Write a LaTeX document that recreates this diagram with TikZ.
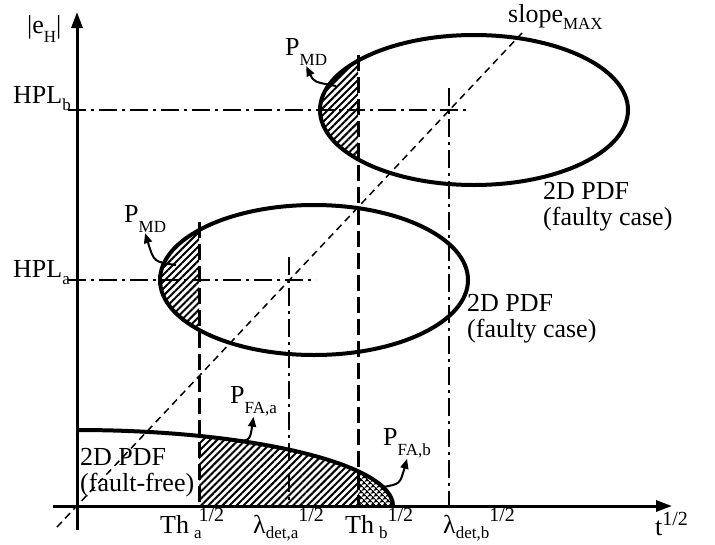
\documentclass[tikz,border=0pt]{standalone}
\usepackage{fontspec}
\setmainfont{Liberation Serif}
\usetikzlibrary{arrows.meta,patterns.meta}

\newcommand{\sublbl}[2][0.42em]{\raisebox{-#1}{\fontsize{17}{17}\selectfont #2}}
\newcommand{\suplbl}[1]{\raisebox{0.45em}{\fontsize{20}{20}\selectfont #1}}

\begin{document}
\begin{tikzpicture}[x=1pt,y=-1pt,
        every node/.style={inner sep=0pt,font=\fontsize{26}{26}\selectfont},
        axis/.style={-{Triangle[length=16pt,width=11pt]},line width=3pt},
        pdf/.style={line width=4pt},
        thr/.style={line width=3pt,dash pattern=on 16pt off 6pt},
        det/.style={line width=2.6pt,dash pattern=on 18pt off 5pt on 3pt off 5pt},
        slopeline/.style={line width=1.5pt,dash pattern=on 7pt off 5pt},
        hatch/.style={pattern={Lines[angle=45,distance=5pt,line width=2pt]}},
        cross/.style={pattern={Hatch[angle=45,distance=4pt,line width=1.3pt]}},
        lbl/.style={-{Triangle[length=10pt,width=8pt]},line width=2pt}]
    \useasboundingbox (0,0) rectangle (715,544);

    % Define positions
    \def\ox{77}
    \def\oy{506}
    \def\tha{199}
    \def\lda{289}
    \def\thb{358}
    \def\ldb{449}
    \def\hpla{280}
    \def\hplb{110}

    % Hatched areas
    \begin{scope}
        \clip (0,0) rectangle (\tha,544);
        \fill[hatch] (314,\hpla) ellipse [x radius=154,y radius=75];
    \end{scope}
    \begin{scope}
        \clip (0,0) rectangle (\thb,544);
        \fill[hatch] (474,\hplb) ellipse [x radius=154,y radius=75];
    \end{scope}
    \begin{scope}
        \clip (\tha,0) rectangle (\thb,544);
        \fill[hatch] (\ox,\oy) -- (\ox,430) arc[start angle=-90,end angle=0,x radius=316,y radius=76] -- cycle;
    \end{scope}
    \begin{scope}
        \clip (\thb,0) rectangle (715,544);
        \fill[cross] (\ox,\oy) -- (\ox,430) arc[start angle=-90,end angle=0,x radius=316,y radius=76] -- cycle;
    \end{scope}

    % 2D PDFs
    \draw[pdf] (314,\hpla) ellipse [x radius=154,y radius=75];
    \draw[pdf] (474,\hplb) ellipse [x radius=154,y radius=75];
    \draw[pdf] (\ox,430) arc[start angle=-90,end angle=0,x radius=316,y radius=76];

    % Axes
    \draw[axis] (\ox,530) -- (\ox,12);
    \draw[axis] (53,\oy) -- (672,\oy);

    % Thresholds and protection levels
    \draw[thr] (\tha,222) -- (\tha,\oy);
    \draw[thr] (\thb,55) -- (\thb,\oy);
    \draw[det] (\lda,257) -- (\lda,\oy);
    \draw[det] (\ldb,88) -- (\ldb,\oy);
    \draw[det] (68,\hpla) -- (316,\hpla);
    \draw[det] (68,\hplb) -- (470,\hplb);
    \draw[slopeline] (57,527) -- (522,33);

    % Axis labels
    \node[anchor=base west] (eh) at (27,33) {|e\sublbl[0.38em]{H}|};
    \node[anchor=base west] (hplb) at (13,103) {HPL\sublbl[0.27em]{b}};
    \node[anchor=base west] (hpla) at (13,277) {HPL\sublbl[0.27em]{a}};
    \node[anchor=base west] (slope) at (508,22) {slope\sublbl[0.3em]{MAX}};
    \node[anchor=base west] (tt) at (655,535) {t\raisebox{0.35em}{\fontsize{20}{20}\selectfont 1/2}};
    \node[anchor=base west] (tha) at (160,533) {Th\hspace{5pt}\sublbl[0.2em]{a}\kern-3pt\suplbl{1/2}};
    \node[anchor=base west] (lda) at (253,533) {λ\sublbl[0.2em]{det,a}\suplbl{1/2}};
    \node[anchor=base west] (thb) at (345,533) {Th\hspace{5pt}\sublbl[0.2em]{b}\suplbl{1/2}};
    \node[anchor=base west] (ldb) at (443,533) {λ\sublbl[0.2em]{det,b}\suplbl{1/2}};

    % PDF labels
    \node[anchor=north west,align=left] (pdfb) at (543,182) {2D PDF\\(faulty case)};
    \node[anchor=north west,align=left] (pdfa) at (467,294) {2D PDF\\(faulty case)};
    \node[anchor=north west,align=left] (pdff) at (80,448) {2D PDF\\(fault-free)};

    % Probabilities
    \node[anchor=base west] (pmdb) at (285,55) {P\sublbl{MD}};
    \node[anchor=base west] (pmda) at (124,222) {P\sublbl{MD}};
    \node[anchor=base west] (pfaa) at (230,403) {P\sublbl{FA,a}};
    \node[anchor=base west] (pfab) at (383,445) {P\sublbl{FA,b}};
    \coordinate (mdb) at (336,86);
    \coordinate (mda) at (176,265);
    \coordinate (faa) at (236,442);
    \coordinate (fab) at (383,487);
    \draw[lbl] (mdb) .. controls (314,82) .. (pmdb.south);
    \draw[lbl] (mda) .. controls (154,262) .. (pmda.south);
    \draw[lbl] (faa) .. controls (250,440) .. (pfaa.south);
    \draw[lbl] (fab) .. controls (400,484) .. (pfab.south);
\end{tikzpicture}
\end{document}
